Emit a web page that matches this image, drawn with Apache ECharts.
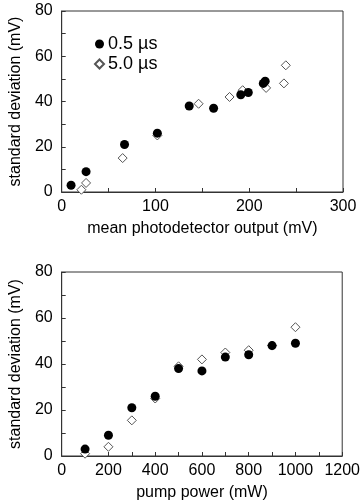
<!DOCTYPE html>
<html>
<head>
<meta charset="utf-8">
<script src="https://cdn.jsdelivr.net/npm/echarts@6/dist/echarts.min.js"></script>
<style>
html,body{margin:0;padding:0;background:#fff;}
#chart{width:363px;height:503px;}
</style>
</head>
<body>
<div id="chart"></div>
<script>
// Top panel: standard deviation vs mean photodetector output
const meanOutput05 = [10, 26, 67, 102, 136, 162, 191, 199, 215, 217];
const sdOutput05   = [3, 9, 21, 26, 38, 37, 43, 44, 48, 49];
const meanOutput50 = [21, 26, 65, 102, 146, 179, 193, 218, 237, 239];
const sdOutput50   = [1, 4, 15, 25, 39, 42, 45, 46, 48, 56];
// Bottom panel: standard deviation vs pump power
const pumpPower  = [100, 200, 300, 400, 500, 600, 700, 800, 900, 1000];
const sdPump05   = [3, 9, 21, 26, 38, 37, 43, 44, 48, 49];
const sdPump50   = [1, 4, 15.5, 25, 39, 42, 45, 46, 48, 56];
// Axis ticks
const yTicks = [0, 20, 40, 60, 80];
const xTicksTop = [0, 100, 200, 300];
const xTicksBottom = [0, 200, 400, 600, 800, 1000, 1200];

const seriesNames = ['0.5 \u00b5s', '5.0 \u00b5s'];
const FONT = '"Liberation Sans", Arial, Helvetica, sans-serif';
const zip = (a, b) => a.map((v, i) => [v, b[i]]);

const chart = echarts.init(document.getElementById('chart'), null, {renderer: 'canvas'});

function xAxis(gridIndex, ticks, name) {
  return {
    type: 'value', gridIndex: gridIndex,
    min: ticks[0], max: ticks[ticks.length - 1], interval: ticks[1] - ticks[0],
    name: name, nameLocation: 'middle', nameGap: 29,
    nameTextStyle: {fontFamily: FONT, fontSize: 16, color: '#000'},
    axisLine: {show: true, onZero: false, lineStyle: {color: '#333', width: 1}},
    axisTick: {show: true, inside: true, length: 4, lineStyle: {color: '#333'}},
    minorTick: {show: true, splitNumber: 2, length: 4, lineStyle: {color: '#333'}},
    axisLabel: {fontFamily: FONT, fontSize: 16, color: '#000', margin: 7, formatter: v => String(v)},
    splitLine: {show: false}
  };
}
function yAxis(gridIndex) {
  return {
    type: 'value', gridIndex: gridIndex,
    min: yTicks[0], max: yTicks[yTicks.length - 1], interval: yTicks[1] - yTicks[0],
    name: 'standard deviation (mV)', nameLocation: 'middle', nameGap: 35, nameRotate: 90,
    nameTextStyle: {fontFamily: FONT, fontSize: 16, color: '#000'},
    axisLine: {show: true, onZero: false, lineStyle: {color: '#333', width: 1}},
    axisTick: {show: true, inside: true, length: 4, lineStyle: {color: '#333'}},
    minorTick: {show: true, splitNumber: 2, length: 4, lineStyle: {color: '#333'}},
    axisLabel: {fontFamily: FONT, fontSize: 16, color: '#000', margin: 9, formatter: v => String(v)},
    splitLine: {show: false}
  };
}

const circleStyle = {color: '#000', borderColor: '#000', borderWidth: 0, opacity: 1};
const diamondStyle = {color: '#fff', borderColor: '#555', borderWidth: 1, opacity: 1};

chart.setOption({
  animation: false,
  backgroundColor: '#fff',
  grid: [
    {left: 60, top: 11, width: 283, height: 181, show: true, borderColor: '#333', borderWidth: 1},
    {left: 60, top: 272, width: 283, height: 184, show: true, borderColor: '#333', borderWidth: 1}
  ],
  legend: {
    data: seriesNames,
    orient: 'vertical', left: 94, top: 35, itemGap: 2, padding: 0,
    itemWidth: 9, itemHeight: 9,
    textStyle: {fontFamily: FONT, fontSize: 18, color: '#000', lineHeight: 18, padding: [0, 0, 0, -1]}
  },
  xAxis: [xAxis(0, xTicksTop, 'mean photodetector output (mV)'), xAxis(1, xTicksBottom, 'pump power (mW)')],
  yAxis: [yAxis(0), yAxis(1)],
  series: [
    {name: seriesNames[1], type: 'scatter', xAxisIndex: 0, yAxisIndex: 0, symbol: 'diamond', symbolSize: [9, 9], itemStyle: diamondStyle, data: zip(meanOutput50, sdOutput50), z: 2},
    {name: seriesNames[0], type: 'scatter', xAxisIndex: 0, yAxisIndex: 0, symbol: 'circle', symbolSize: 9, itemStyle: circleStyle, data: zip(meanOutput05, sdOutput05), z: 3},
    {name: seriesNames[1], type: 'scatter', xAxisIndex: 1, yAxisIndex: 1, symbol: 'diamond', symbolSize: [9, 9], itemStyle: diamondStyle, data: zip(pumpPower, sdPump50), z: 2},
    {name: seriesNames[0], type: 'scatter', xAxisIndex: 1, yAxisIndex: 1, symbol: 'circle', symbolSize: 9, itemStyle: circleStyle, data: zip(pumpPower, sdPump05), z: 3}
  ]
});
</script>
</body>
</html>
